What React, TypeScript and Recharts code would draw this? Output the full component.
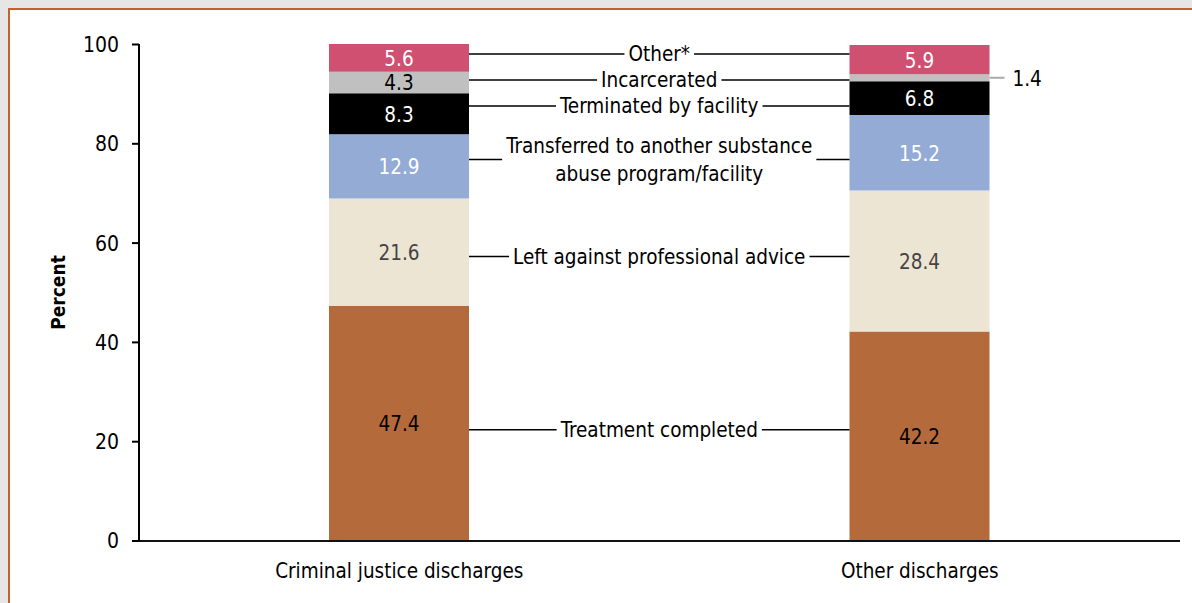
import React from "react";
import { BarChart, Bar, XAxis, YAxis, LabelList } from "recharts";

const categories = ["Criminal justice discharges", "Other discharges"];

const treatmentCompleted = [47.4, 42.2];
const leftAgainstAdvice = [21.6, 28.4];
const transferred = [12.9, 15.2];
const terminated = [8.3, 6.8];
const incarcerated = [4.3, 1.4];
const other = [5.6, 5.9];

const yTicks = [0, 20, 40, 60, 80, 100];

const FONT = "'Liberation Sans Narrow', 'DejaVu Sans Condensed', sans-serif";
const FS = 20.5;

const series = [
  { key: "treatment", values: treatmentCompleted, lines: ["Treatment completed"], fill: "#b56a3b", text: "#000000" },
  { key: "left", values: leftAgainstAdvice, lines: ["Left against professional advice"], fill: "#ede5d3", text: "#444444" },
  {
    key: "transferred",
    values: transferred,
    lines: ["Transferred to another substance", "abuse program/facility"],
    fill: "#94abd6",
    text: "#ffffff",
  },
  { key: "terminated", values: terminated, lines: ["Terminated by facility"], fill: "#000000", text: "#ffffff" },
  { key: "incarcerated", values: incarcerated, lines: ["Incarcerated"], fill: "#c0c0c0", text: "#000000" },
  { key: "other", values: other, lines: ["Other*"], fill: "#d05072", text: "#ffffff" },
];

const data = categories.map((name, i) => {
  const row: any = { name };
  series.forEach((s) => (row[s.key] = s.values[i]));
  return row;
});

// canvas is only used to measure label widths so the connector lines stop at the text
const measureCtx = typeof document !== "undefined" ? document.createElement("canvas").getContext("2d") : null;
const textWidth = (s: string, size: number) => {
  if (!measureCtx) return s.length * size * 0.42;
  measureCtx.font = `${size}px ${FONT}`;
  return measureCtx.measureText(s).width;
};

const geom: Record<string, any[]> = {};
// y of the previous (lower) annotation, so stacked labels keep a minimum spacing
const annot: Record<string, number> = {};

const makeLabel = (s: any, si: number) => (props: any) => {
  const { index, value } = props;
  const x = Number(props.x);
  const w = Number(props.width);
  const top = Math.min(Number(props.y), Number(props.y) + Number(props.height));
  const h = Math.abs(Number(props.height));
  geom[s.key] = geom[s.key] || [];
  geom[s.key][index] = { x, top, w, h };
  const cx = x + w / 2;
  const cy = top + h / 2;
  const parts: any[] = [];

  if (h >= 14) {
    parts.push(
      <text key="v" x={cx} y={cy + 1} textAnchor="middle" dominantBaseline="central" fill={s.text} fontSize={FS}>
        {value}
      </text>
    );
  } else {
    parts.push(<line key="ll" x1={x + w} x2={x + w + 15} y1={cy} y2={cy} stroke="#aaaaaa" strokeWidth={2} />);
    parts.push(
      <text key="v" x={x + w + 23} y={cy + 1} dominantBaseline="central" fill="#000" fontSize={FS}>
        {value}
      </text>
    );
  }

  const a = geom[s.key][0];
  if (index === 1 && a) {
    let ay = (a.top + a.h / 2 + cy) / 2;
    const prev = si > 0 ? annot[series[si - 1].key] : undefined;
    if (prev !== undefined && series[si - 1].lines.length === 1 && ay > prev - 26) ay = prev - 26;
    annot[s.key] = ay;
    const x1 = a.x + a.w;
    const x2 = x;
    const mid = (x1 + x2) / 2;
    const tw = Math.max(...s.lines.map((l: string) => textWidth(l, FS)));
    const gap = 4;
    const n = s.lines.length;
    parts.push(<line key="a1" x1={x1} x2={mid - tw / 2 - gap} y1={ay} y2={ay} stroke="#000" strokeWidth={1.5} />);
    parts.push(<line key="a2" x1={mid + tw / 2 + gap} x2={x2} y1={ay} y2={ay} stroke="#000" strokeWidth={1.5} />);
    s.lines.forEach((l: string, i: number) => {
      parts.push(
        <text
          key={"t" + i}
          x={mid}
          y={ay + (i - (n - 1) / 2) * 28}
          textAnchor="middle"
          dominantBaseline="central"
          fill="#000"
          fontSize={FS}
        >
          {l}
        </text>
      );
    });
  }
  return <g>{parts}</g>;
};

export default function App() {
  return (
    <div
      style={{
        position: "absolute",
        left: 0,
        top: 0,
        width: 1192,
        height: 603,
        background: "#e6e6e6",
        overflow: "hidden",
        fontFamily: FONT,
      }}
    >
      <div
        style={{
          position: "absolute",
          left: 8,
          top: 8,
          width: 1184,
          height: 595,
          background: "#ffffff",
          borderTop: "2px solid #c0632b",
          borderLeft: "2px solid #c0632b",
          boxSizing: "border-box",
        }}
      >
        <BarChart width={1182} height={593} data={data} margin={{ top: 34, right: 12, left: 0, bottom: 0 }} barSize={140}>
          <XAxis
            dataKey="name"
            height={62}
            tickLine={false}
            tickSize={0}
            tickMargin={22}
            axisLine={{ stroke: "#111", strokeWidth: 2 }}
            tick={{ fill: "#000", fontSize: FS }}
          />
          <YAxis
            width={129}
            domain={[0, 100]}
            ticks={yTicks}
            interval={0}
            tickSize={7}
            tickMargin={13}
            axisLine={{ stroke: "#000", strokeWidth: 2 }}
            tickLine={{ stroke: "#000", strokeWidth: 2 }}
            tick={{ fill: "#000", fontSize: 21 }}
            label={{ value: "Percent", angle: -90, position: "center", dx: -16, fill: "#000", fontSize: 19, fontWeight: "bold" }}
          />
          {series.map((s, si) => (
            <Bar key={s.key} dataKey={s.key} stackId="a" fill={s.fill} isAnimationActive={false}>
              <LabelList dataKey={s.key} content={makeLabel(s, si)} />
            </Bar>
          ))}
        </BarChart>
      </div>
    </div>
  );
}
